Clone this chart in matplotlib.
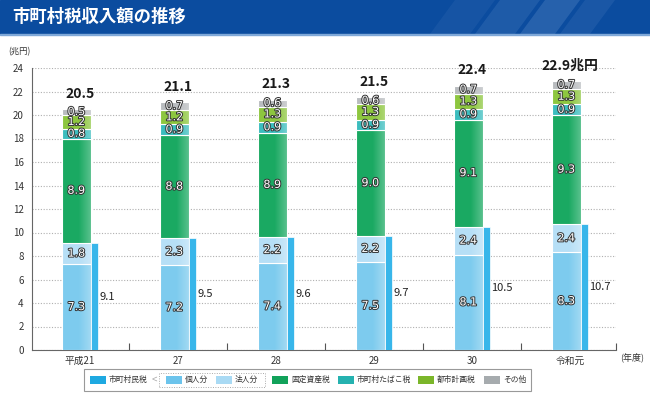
import matplotlib
matplotlib.use("Agg")
import matplotlib.pyplot as plt
import matplotlib.patches as patches
import matplotlib.patheffects as pe
import numpy as np

plt.rcParams['font.family'] = ['Noto Sans CJK JP', 'DejaVu Sans']

# data (兆円)
years = ['平成21', '27', '28', '29', '30', '令和元']
kojin = [7.3, 7.2, 7.4, 7.5, 8.1, 8.3]
hojin = [1.8, 2.3, 2.2, 2.2, 2.4, 2.4]
shichoson_minzei = [9.1, 9.5, 9.6, 9.7, 10.5, 10.7]
kotei = [8.9, 8.8, 8.9, 9.0, 9.1, 9.3]
tabako = [0.8, 0.9, 0.9, 0.9, 0.9, 0.9]
toshi = [1.2, 1.2, 1.3, 1.3, 1.3, 1.3]
sonota = [0.5, 0.7, 0.6, 0.6, 0.7, 0.7]
totals = ['20.5', '21.1', '21.3', '21.5', '22.4', '22.9兆円']

W, H = 650, 394
fig = plt.figure(figsize=(W / 100, H / 100), dpi=100)

def fx(px):
    return px / W

def fy(py):
    return 1 - py / H

# ---- title banner
fig.patches.append(patches.Rectangle((0, fy(34)), 1, 34 / H, transform=fig.transFigure,
                                     color='#0b4c9f', zorder=0))
fig.patches.append(patches.Rectangle((0, fy(35)), 1, 1.5 / H, transform=fig.transFigure,
                                     color='#7fa8d8', zorder=0))
# soft light stripes on the right of the banner
for x0, x1, a in [(430, 470, 0.06), (475, 515, 0.10), (520, 555, 0.14), (560, 590, 0.08)]:
    poly = patches.Polygon([(fx(x0 + 25), fy(0)), (fx(x1 + 25), fy(0)),
                            (fx(x1), fy(34)), (fx(x0), fy(34))],
                           closed=True, transform=fig.transFigure, color='#cfe3ff',
                           alpha=a, lw=0, zorder=0)
    fig.patches.append(poly)
fig.text(fx(12), fy(17), '市町村税収入額の推移', color='white', fontsize=12.5,
         fontweight='bold', va='center', ha='left')

# ---- axes
ax = fig.add_axes([fx(32), fy(350), fx(616) - fx(32), fy(68) - fy(350)])
x = np.arange(len(years))

c_kojin = '#7dcbee'
c_hojin = '#b6dff6'
c_min = '#38b6ea'
c_kotei = '#1aa962'
c_tabako = '#3bbdbe'
c_toshi = '#8dc63f'
c_sonota = '#b9bcbf'

bx = x - 0.037
bw = 0.296
ex = dict(edgecolor='white', linewidth=0.8, zorder=3)

kojin_a = np.array(kojin)
hojin_a = np.array(hojin)
kotei_a = np.array(kotei)
tabako_a = np.array(tabako)
toshi_a = np.array(toshi)
sonota_a = np.array(sonota)

b1 = kojin_a + hojin_a
b2 = b1 + kotei_a
b3 = b2 + tabako_a
b4 = b3 + toshi_a

conts = []
conts.append(ax.bar(bx, kojin_a, bw, color=c_kojin, **ex))
conts.append(ax.bar(bx, hojin_a, bw, bottom=kojin_a, color=c_hojin, **ex))
conts.append(ax.bar(bx, kotei_a, bw, bottom=b1, color=c_kotei, **ex))
conts.append(ax.bar(bx, tabako_a, bw, bottom=b2, color=c_tabako, **ex))
conts.append(ax.bar(bx, toshi_a, bw, bottom=b3, color=c_toshi, **ex))
conts.append(ax.bar(bx, sonota_a, bw, bottom=b4, color=c_sonota, **ex))
ax.bar(x + 0.15, shichoson_minzei, 0.066, color=c_min, edgecolor='white',
       linewidth=0.5, zorder=3)

# light gradient on the right side of each segment
grad = np.zeros((1, 100, 4))
grad[..., :3] = 1.0
grad[0, :, 3] = np.clip((np.linspace(0, 1, 100) - 0.55) / 0.45, 0, 1) * 0.3
for cont in conts:
    for p in cont.patches:
        x0, y0 = p.get_x(), p.get_y()
        im = ax.imshow(grad, extent=(x0, x0 + p.get_width(), y0, y0 + p.get_height()),
                       aspect='auto', zorder=4, interpolation='bilinear')
        im.set_clip_path(p)

stroke = [pe.withStroke(linewidth=1.4, foreground='#333333')]
lab = dict(ha='center', va='center', color='white', fontsize=8, zorder=5,
           path_effects=stroke, family=['DejaVu Sans'])
for i in range(len(years)):
    ax.text(bx[i], kojin_a[i] / 2, f'{kojin[i]}', **lab)
    ax.text(bx[i], kojin_a[i] + hojin_a[i] / 2, f'{hojin[i]}', **lab)
    ax.text(bx[i], b1[i] + kotei_a[i] / 2, f'{kotei[i]}', **lab)
    ax.text(bx[i], b2[i] + tabako_a[i] / 2, f'{tabako[i]}', **lab)
    ax.text(bx[i], b3[i] + toshi_a[i] / 2, f'{toshi[i]}', **lab)
    ax.text(bx[i], b4[i] + sonota_a[i] / 2, f'{sonota[i]}', **lab)
    ax.text(x[i] + 0.2, shichoson_minzei[i] / 2, f'{shichoson_minzei[i]}',
            ha='left', va='center', fontsize=8, color='#222222')
    top = b4[i] + sonota_a[i]
    ax.annotate(totals[i], (x[i], top), xytext=(0, 11), textcoords='offset points',
                ha='center', va='center', fontsize=10, fontweight='bold',
                color='#1a1a1a')

ax.set_xlim(-0.49, 5.47)
ax.set_ylim(0, 24)
ax.set_yticks(np.arange(0, 25, 2))
ax.tick_params(axis='y', length=0, labelsize=7, colors='#333333', pad=6)
ax.set_xticks(x)
ax.set_xticklabels(years)
ax.tick_params(axis='x', length=0, labelsize=7, colors='#333333', pad=4)
ax.set_xticks(list(np.arange(0.5, 5.5, 1)) + [5.465], minor=True)
ax.tick_params(axis='x', which='minor', direction='in', length=5, width=0.8,
               color='#555555')
for s in ['top', 'right']:
    ax.spines[s].set_visible(False)
ax.spines['left'].set_color('#666666')
ax.spines['bottom'].set_color('#666666')
ax.yaxis.grid(True, linestyle=(0, (1, 1.5)), color='#b0b0b0', linewidth=0.8)
ax.set_axisbelow(True)

fig.text(fx(8), fy(52), '(兆円)', fontsize=6, color='#333333', va='center', ha='left')
fig.text(fx(620), fy(357), '(年度)', fontsize=6.5, color='#333333', va='center', ha='left')

# ---- legend (drawn by hand)
fig.patches.append(patches.Rectangle((fx(84), fy(391)), fx(531) - fx(84), 22 / H,
                                     transform=fig.transFigure, fill=False,
                                     edgecolor='#999999', lw=0.8))
fig.patches.append(patches.Rectangle((fx(159), fy(387)), fx(265) - fx(159), 14 / H,
                                     transform=fig.transFigure, fill=False,
                                     edgecolor='#aaaaaa', lw=0.7, linestyle=(0, (1, 1.5))))
fig.text(fx(154), fy(380), '<', fontsize=7, color='#aaaaaa', ha='center', va='center')

leg_items = [
    ('市町村民税', '#1ea9e1', 90),
    ('個人分', '#6cc4ec', 166),
    ('法人分', '#a9daf4', 216),
    ('固定資産税', '#12a25a', 272),
    ('市町村たばこ税', '#25b2b0', 338),
    ('都市計画税', '#7bb62a', 418),
    ('その他', '#a6abae', 484),
]
for name, col, px in leg_items:
    fig.patches.append(patches.Rectangle((fx(px), fy(384)), 16 / W, 8 / H,
                                         transform=fig.transFigure, color=col, lw=0))
    fig.text(fx(px + 19), fy(380), name, fontsize=5.6, color='#333333',
             ha='left', va='center')

fig.savefig('out.png', dpi=100)
